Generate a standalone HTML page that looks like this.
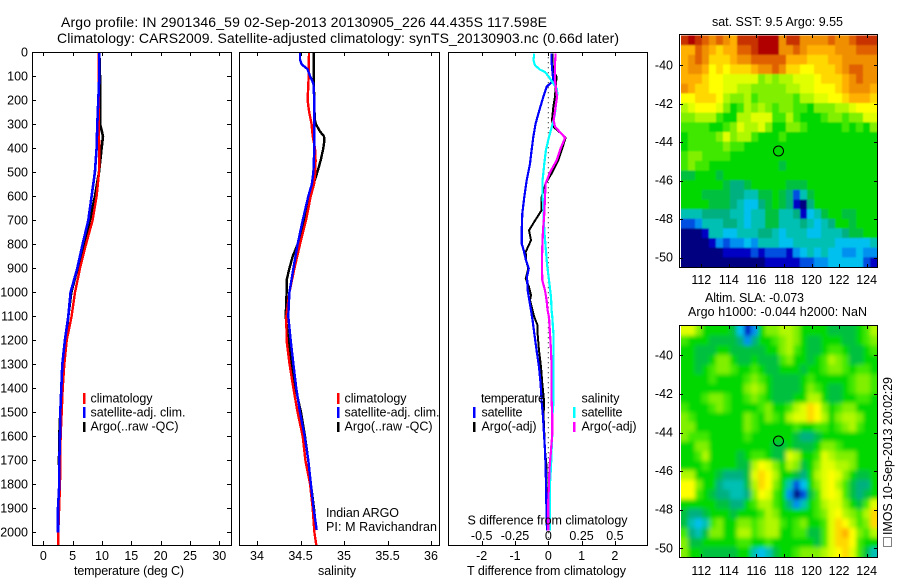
<!DOCTYPE html>
<html>
<head>
<meta charset="utf-8">
<title>Argo profile</title>
<style>
html,body{margin:0;padding:0;background:#fff;}
svg{display:block;font-family:"Liberation Sans",sans-serif;font-size:12.5px;fill:#000;}
.frame{fill:none;stroke:#000;stroke-width:1;shape-rendering:crispEdges;}
.sw{stroke:none;shape-rendering:crispEdges;}
</style>
</head>
<body>
<svg id="chart" xmlns="http://www.w3.org/2000/svg" width="900" height="580" viewBox="0 0 900 580">
<defs>
<clipPath id="clip-sst"><rect x="681" y="35.5" width="196" height="232"/></clipPath>
<clipPath id="clip-sla"><rect x="681" y="326" width="196" height="231.5"/></clipPath>
<filter id="soft-sst" filterUnits="userSpaceOnUse" x="640" y="0" width="260" height="300"><feGaussianBlur stdDeviation="0.8"/></filter>
<filter id="soft-sla" filterUnits="userSpaceOnUse" x="640" y="290" width="260" height="290"><feGaussianBlur stdDeviation="2"/></filter>
</defs>
<rect x="0" y="0" width="900" height="580" fill="#fff"/>
<text x="61" y="27" font-size="14" textLength="486">Argo profile: IN 2901346_59 02-Sep-2013 20130905_226 44.435S 117.598E</text>
<text x="57" y="43" font-size="14" textLength="562">Climatology: CARS2009. Satellite-adjusted climatology: synTS_20130903.nc (0.66d later)</text>

<g clip-path="url(#clip-sst)"><g id="map1-cells" filter="url(#soft-sst)"></g></g>
<g clip-path="url(#clip-sla)"><g id="map2-cells" filter="url(#soft-sla)"></g></g>
<g id="series"></g>
<g id="ticks"></g>

<rect class="frame" x="32.5" y="52.5" width="199" height="493"/>
<rect class="frame" x="239.5" y="52.5" width="200" height="493"/>
<rect class="frame" x="448.5" y="52.5" width="199" height="493"/>
<rect class="frame" x="679.5" y="34.5" width="198" height="233"/>
<rect class="frame" x="679.5" y="325.5" width="198" height="232"/>

<text x="74" y="575" textLength="110">temperature (deg C)</text>
<text x="318" y="575" textLength="38">salinity</text>
<text x="467" y="575" textLength="159">T difference from climatology</text>
<text x="467.5" y="524.5" textLength="160">S difference from climatology</text>

<rect class="sw" x="83" y="393" width="2.5" height="11" fill="#f00"/>
<rect class="sw" x="83" y="407" width="2.5" height="11" fill="#00f"/>
<rect class="sw" x="83" y="422" width="2.5" height="10" fill="#000"/>
<text x="90.5" y="402.5" textLength="62">climatology</text>
<text x="90.5" y="416.5" textLength="95">satellite-adj. clim.</text>
<text x="90.5" y="430.5" textLength="88">Argo(..raw -QC)</text>

<rect class="sw" x="337" y="393" width="2.5" height="11" fill="#f00"/>
<rect class="sw" x="337" y="407" width="2.5" height="11" fill="#00f"/>
<rect class="sw" x="337" y="422" width="2.5" height="10" fill="#000"/>
<text x="344.5" y="402.5" textLength="62">climatology</text>
<text x="344.5" y="416.5" textLength="95">satellite-adj. clim.</text>
<text x="344.5" y="430.5" textLength="88">Argo(..raw -QC)</text>

<text x="326" y="517" textLength="73">Indian ARGO</text>
<text x="326" y="531" textLength="111">PI: M Ravichandran</text>

<text x="481" y="402.5" textLength="64">temperature</text>
<rect class="sw" x="473" y="407" width="2.5" height="11" fill="#00f"/>
<rect class="sw" x="473" y="422" width="2.5" height="10" fill="#000"/>
<text x="481.5" y="416.5" textLength="41">satellite</text>
<text x="481.5" y="430.5" textLength="55">Argo(-adj)</text>
<text x="581.5" y="402.5" textLength="38">salinity</text>
<rect class="sw" x="573" y="407" width="2.5" height="11" fill="#0ff"/>
<rect class="sw" x="573" y="422" width="2.5" height="10" fill="#f0f"/>
<text x="581.5" y="416.5" textLength="41">satellite</text>
<text x="581.5" y="430.5" textLength="55">Argo(-adj)</text>

<text x="712" y="26" textLength="131">sat. SST: 9.5 Argo: 9.55</text>
<text x="705" y="302" textLength="99">Altim. SLA: -0.073</text>
<text x="688" y="316" textLength="179">Argo h1000: -0.044 h2000: NaN</text>

<circle cx="778.5" cy="151" r="5" fill="none" stroke="#000" stroke-width="1"/>
<circle cx="778.5" cy="441" r="5" fill="none" stroke="#000" stroke-width="1"/>

<rect x="883.5" y="537.5" width="8" height="9" fill="none" stroke="#000" stroke-width="1" stroke-dasharray="1 1"/>
<text transform="translate(892,535) rotate(-90)" textLength="158">IMOS 10-Sep-2013 20:02:29</text>
</svg>

<script>
// ---- axis tick labels ----
const depthTicks = [0,100,200,300,400,500,600,700,800,900,1000,1100,1200,1300,1400,1500,1600,1700,1800,1900,2000];
const tempTicks = [0,5,10,15,20,25,30];
const salTicks = [34,34.5,35,35.5,36];
const dTTicks = [-2,-1,0,1,2];
const dSTicks = [-0.5,-0.25,0,0.25,0.5];
const lonTicks = [112,114,116,118,120,122,124];
const latTicks = [-40,-42,-44,-46,-48,-50];

// ---- temperature panel (deg C) ----
const tempClimDepth = [0,300,400,500,600,700,800,900,1000,1100,1200,1300,1400,1500,1600,1800,2000,2055];
const tempClimValue = [9.43,9.43,9.55,9.5,9.09,8.41,7.27,6.25,5.40,4.83,3.98,3.58,3.30,3.13,2.95,2.84,2.56,2.56];
const tempSatDepth = [0,100,200,300,400,500,600,700,800,900,1000,1100,1200,1300,1400,1500,1600,1700,1800,1900,2000];
const tempSatValue = [9.55,9.55,9.38,9.2,9.09,8.8,8.24,7.67,6.7,5.8,4.66,4.26,3.69,3.24,3.07,2.9,2.84,2.73,2.73,2.5,2.5];
const tempArgoDepth = [0,100,200,300,350,400,500,600,700,800,900,1000,1100,1200,1300,1400,1500,1600,1700,1800,1900,2000];
const tempArgoValue = [9.55,9.66,9.66,9.7,10.17,9.94,9.5,8.8,7.95,6.93,5.85,4.77,4.26,3.86,3.3,3.13,2.9,2.73,2.67,2.73,2.56,2.5];

// ---- salinity panel ----
const salClimDepth = [0,100,200,250,300,350,400,450,500,550,600,700,800,900,1000,1100,1200,1300,1400,1500,1600,1700,1800,1900,2000,2055];
const salClimValue = [34.598,34.594,34.582,34.60,34.628,34.64,34.667,34.674,34.67,34.655,34.617,34.563,34.494,34.43,34.372,34.337,34.34,34.375,34.418,34.467,34.525,34.556,34.61,34.64,34.66,34.682];
const salSatDepth = [0,30,50,70,100,130,200,300,400,500,550,600,700,800,900,1000,1100,1200,1300,1400,1500,1600,1700,1800,1900,1990];
const salSatValue = [34.494,34.494,34.513,34.58,34.61,34.648,34.659,34.659,34.659,34.648,34.63,34.59,34.525,34.467,34.418,34.372,34.36,34.387,34.418,34.452,34.494,34.548,34.59,34.62,34.651,34.686];
const salArgoDepth = [0,100,200,280,300,330,350,370,400,450,500,550,600,700,800,850,900,950,1000,1100,1200,1300,1400,1500,1600,1700,1800,1900,1990];
const salArgoValue = [34.651,34.651,34.659,34.663,34.678,34.724,34.77,34.774,34.762,34.732,34.693,34.648,34.61,34.54,34.467,34.41,34.372,34.34,34.34,34.33,34.36,34.40,34.444,34.506,34.552,34.59,34.62,34.655,34.678];

// ---- difference panel ----
const dTSatDepth = [5,40,75,117,144,186,242,297,353,408,464,533,603,672,742,797,825,867,901,936,992,1033,1075,1117,1172,1242,1311,1381,1450,1519,1589,1658,1728,1797,1867,1936,1992];
const dTSatValue = [0.10,0.10,0.12,0.15,-0.05,-0.15,-0.27,-0.38,-0.45,-0.50,-0.55,-0.65,-0.72,-0.78,-0.80,-0.80,-0.74,-0.67,-0.59,-0.64,-0.62,-0.57,-0.52,-0.47,-0.42,-0.35,-0.28,-0.23,-0.20,-0.16,-0.13,-0.10,-0.08,-0.07,-0.06,-0.05,-0.04];
const dTArgoDepth = [5,40,75,103,144,186,228,283,310,340,356,400,450,500,547,603,658,706,742,783,832,867,901,943,978,1012,1033,1103,1138,1172,1242,1311,1381,1450,1519,1589,1658,1728,1797,1867,1992];
const dTArgoValue = [0.12,0.12,0.15,0.25,0.22,0.20,0.15,0.11,0.15,0.40,0.52,0.42,0.30,0.12,-0.08,-0.20,-0.20,-0.42,-0.58,-0.52,-0.68,-0.67,-0.60,-0.68,-0.58,-0.52,-0.55,-0.42,-0.32,-0.32,-0.28,-0.22,-0.18,-0.13,-0.14,-0.12,-0.10,-0.05,-0.05,-0.04,-0.04];
const dSSatDepth = [6,33,54,72,82,103,131,151,172,214,256,297,353,408,464,533,603,672,742,811,881,950,1019,1075,1103,1172,1242,1311,1381,1450,1519,1589,1658,1728,1797,1867,1936,1992];
const dSSatValue = [-0.106,-0.111,-0.10,-0.063,-0.025,0.005,0.038,0.063,0.068,0.058,0.05,0.033,0.005,-0.018,-0.03,-0.043,-0.043,-0.035,-0.03,-0.02,-0.01,0.005,0.02,0.025,0.03,0.038,0.04,0.04,0.04,0.04,0.03,0.03,0.025,0.02,0.013,0.013,0.013,0.013];
const dSArgoDepth = [6,47,117,186,228,283,310,340,356,400,450,500,547,603,672,742,811,881,950,992,1033,1075,1103,1172,1242,1311,1450,1519,1589,1658,1728,1797,1867,1992];
const dSArgoValue = [0.055,0.05,0.05,0.065,0.055,0.04,0.05,0.10,0.126,0.093,0.063,0.013,-0.02,-0.025,-0.03,-0.04,-0.045,-0.048,-0.045,-0.025,-0.013,-0.005,0.005,0.013,0.02,0.025,0.025,0.03,0.03,0.02,0.01,0.005,0,0];

// ---- map cell values (colour-scale level 0..19), north to south ----
const sstGrid = [
[18,19,18,17,16,17,16,15,18,18,18,19,19,19,16,18,18,16,16,16,16,17,16,16,17,18,18,18],
[15,15,17,16,15,14,15,15,17,17,18,19,19,19,16,16,17,16,15,15,15,15,16,16,16,17,17,17],
[15,16,17,16,14,14,14,15,16,16,17,17,17,17,17,15,15,15,14,14,14,15,15,16,16,16,16,16],
[15,16,16,15,13,14,13,14,14,14,15,16,16,17,16,14,14,13,13,14,14,14,15,16,17,17,16,16],
[15,15,15,14,13,13,12,12,12,12,12,10,11,10,11,11,12,12,12,13,14,14,14,15,16,17,16,16],
[16,15,14,14,13,13,12,12,11,11,10,10,10,10,10,11,11,12,12,13,13,13,14,15,16,16,16,15],
[13,13,14,14,14,13,11,10,10,11,9,10,10,10,10,10,9,11,11,12,12,13,13,14,15,15,15,14],
[11,12,13,13,13,12,10,8,9,11,10,11,10,9,10,10,9,9,8,10,10,10,11,11,12,13,13,13],
[10,10,11,11,11,9,8,8,11,11,12,12,12,9,9,11,9,8,8,8,9,10,10,9,10,10,12,12],
[9,9,9,9,8,8,9,10,12,11,11,12,10,8,8,10,10,9,8,8,8,8,8,9,8,9,8,10],
[8,9,9,9,9,10,12,10,11,11,9,8,8,8,9,8,8,8,8,8,8,8,8,8,8,8,8,8],
[8,9,9,9,9,9,10,9,9,8,8,8,8,8,8,8,8,8,8,8,8,8,8,8,8,8,8,8],
[9,10,10,9,9,9,9,8,8,8,8,8,8,8,8,8,8,8,8,8,8,8,8,8,8,8,8,8],
[9,10,9,9,8,8,8,8,8,8,8,8,8,8,7,8,8,8,8,8,8,8,8,8,8,8,8,8],
[7,7,8,8,8,7,8,8,8,8,8,8,8,8,8,8,8,8,8,8,8,8,8,8,8,8,8,8],
[8,8,8,8,8,8,7,6,6,7,8,8,8,8,8,7,7,7,8,8,8,8,8,8,8,8,8,8],
[8,8,8,7,7,7,7,6,6,5,5,7,7,8,7,6,2,5,7,8,8,8,8,8,8,8,8,8],
[8,8,8,8,7,7,7,6,5,4,4,6,7,8,7,6,1,0,6,8,8,8,8,8,8,8,8,8],
[5,5,5,6,6,6,6,5,5,4,5,5,7,7,5,5,6,1,4,5,7,8,8,7,7,8,8,8],
[2,2,3,5,5,5,6,6,5,4,5,5,7,7,5,5,5,6,5,4,5,6,8,8,7,8,8,8],
[0,0,0,1,5,5,4,4,5,5,5,6,6,5,4,5,5,5,4,4,5,5,5,6,7,7,8,8],
[0,0,0,0,1,3,2,3,3,4,3,5,5,5,4,4,5,5,5,5,5,5,4,4,4,4,4,5],
[0,0,0,0,0,0,1,1,1,1,2,1,2,2,2,1,3,4,5,4,5,4,4,3,3,4,3,3],
[0,0,0,0,0,0,0,0,0,0,0,0,1,1,1,1,1,2,2,3,3,4,4,4,4,4,2,1]
];
const slaGrid = [
[12,12,10,8,8,8,8,7,4,1,3,8,10,10,11,11,10,8,8,8,8,7,7,7,7,8,9,11],
[9,8,8,8,7,7,7,7,6,3,6,8,8,9,10,11,10,8,7,7,8,8,8,7,7,8,9,10],
[8,8,7,7,7,8,8,7,7,7,7,7,8,8,10,11,9,8,7,7,8,9,9,8,7,7,8,9],
[8,8,7,7,8,10,10,8,7,7,8,7,7,7,9,10,8,8,7,8,9,11,10,9,7,7,8,8],
[8,8,7,8,9,10,10,9,8,8,9,8,7,7,8,8,8,7,8,8,9,10,10,9,8,9,9,8],
[8,8,8,8,9,8,8,8,8,9,10,9,8,7,7,7,7,8,9,8,8,8,8,8,9,10,10,9],
[8,8,8,8,8,8,8,8,8,10,11,10,8,7,7,7,7,8,10,9,8,7,7,8,9,10,10,9],
[8,8,8,9,10,10,9,8,8,9,10,9,8,7,7,7,8,8,11,11,8,7,7,8,8,9,9,8],
[9,8,8,8,9,10,9,8,8,8,8,9,10,8,8,9,11,12,14,13,10,8,9,10,10,8,8,8],
[10,9,8,8,8,8,8,8,8,10,9,8,10,9,8,11,12,12,14,13,11,8,10,11,11,10,8,8],
[10,10,8,8,8,8,8,8,8,10,9,8,8,8,8,8,9,8,8,9,9,8,9,10,11,9,8,8],
[10,9,9,9,8,8,8,8,8,9,8,8,8,8,8,8,7,6,6,7,8,8,8,8,8,8,8,8],
[8,8,10,10,8,8,8,8,8,8,8,8,8,7,7,8,7,7,7,8,10,10,9,8,8,8,8,8],
[8,8,9,11,8,8,8,8,7,8,9,9,8,7,7,12,11,8,8,9,12,11,10,10,10,8,8,8],
[8,8,8,9,8,8,8,8,7,7,11,13,12,10,8,11,10,7,8,10,12,12,11,11,10,8,8,8],
[11,11,8,8,8,7,6,6,6,7,12,14,13,11,8,8,7,6,8,11,12,13,12,10,8,7,7,8],
[13,13,10,8,8,6,5,5,5,7,11,14,13,10,8,5,2,4,8,10,12,13,11,9,7,6,6,8],
[13,13,9,8,7,6,6,5,5,6,10,13,12,9,8,3,0,2,7,9,12,13,12,9,7,6,7,8],
[8,8,8,8,8,7,7,6,6,8,9,11,11,9,8,6,3,5,8,9,11,12,12,10,8,7,9,12],
[7,6,6,7,8,8,8,7,8,8,8,9,11,10,8,8,8,8,8,9,10,12,13,11,10,9,11,14],
[7,5,4,5,9,10,8,8,10,10,9,10,11,11,9,8,9,10,8,8,9,12,14,13,11,9,10,14],
[9,6,5,7,10,10,8,8,11,11,9,10,11,11,8,8,9,9,7,7,9,12,14,15,13,10,9,11],
[10,7,7,8,8,8,8,8,9,9,8,8,9,8,8,8,8,8,8,7,9,12,14,14,13,9,8,8],
[10,8,8,7,7,7,7,7,8,8,5,4,5,7,8,8,9,10,10,10,11,12,13,14,12,9,7,5]
];

const SVGNS = 'http://www.w3.org/2000/svg';
const palette = ['#000080','#0000c4','#0050e0','#0090f0','#00c0f0','#00c0b4','#00b080','#00c040','#00d800','#40e800','#80f000','#b0f800','#e0ff00','#ffff00','#ffd800','#ffb000','#f09000','#e06000','#c83000','#b00000'];

// axis functions
function yDepth(d){ return 52.3 + d * 0.24; }
function xTemp(t){ return 43.3 + t * 5.867; }
function xSal(s){ return 257 + (s - 34) * 87; }
function xDT(t){ return 548.3 + t * 33.3; }
function xDS(s){ return 548.3 + s * 133.2; }
function xLon(lon){ return 701.3 + (lon - 112) * 13.78; }
function yLat1(lat){ return 65.3 - (lat + 40) * 19.23; }
function yLat2(lat){ return 355.3 - (lat + 40) * 19.3; }

const seriesG = document.getElementById('series');
const ticksG = document.getElementById('ticks');

function drawLine(name, depths, values, xFn, color, width){
  const p = document.createElementNS(SVGNS, 'polyline');
  
  
  p.setAttribute('points', depths.map(function(d, i){ return xFn(values[i]).toFixed(1) + ',' + yDepth(d).toFixed(1); }).join(' '));
  p.setAttribute('fill', 'none');
  p.setAttribute('stroke', color);
  p.setAttribute('stroke-width', width);
  p.setAttribute('shape-rendering', 'crispEdges');
  seriesG.appendChild(p);
}
function tickMark(x1, y1, x2, y2){
  const l = document.createElementNS(SVGNS, 'line');
  
  
  l.setAttribute('x1', x1);
  l.setAttribute('y1', y1);
  l.setAttribute('x2', x2);
  l.setAttribute('y2', y2);
  l.setAttribute('stroke', '#000');
  l.setAttribute('shape-rendering', 'crispEdges');
  ticksG.appendChild(l);
}
function tickLabel(value, x, y, anchor){
  const t = document.createElementNS(SVGNS, 'text');
  
  
  t.setAttribute('x', x);
  t.setAttribute('y', y);
  t.setAttribute('text-anchor', anchor);
  t.textContent = value;
  ticksG.appendChild(t);
}
function drawGrid(gid, grid, left, top, right, bottom){
  const g = document.getElementById(gid);
  const rows = grid.length;
  const bleed = 12;
  grid.forEach(function(row, r){
    const cols = row.length;
    row.forEach(function(v, c){
      const bw = (right - left) / cols;
      const bh = (bottom - top) / rows;
      // border cells extend past the clip so the smoothing does not fade at the edge
      const x0 = left + c * bw - (c === 0 ? bleed : 0);
      const y0 = top + r * bh - (r === 0 ? bleed : 0);
      const x1 = left + (c + 1) * bw + (c === cols - 1 ? bleed : 0.5);
      const y1 = top + (r + 1) * bh + (r === rows - 1 ? bleed : 0.5);
      const cell = document.createElementNS(SVGNS, 'rect');
      
      
      cell.setAttribute('x', x0.toFixed(2));
      cell.setAttribute('y', y0.toFixed(2));
      cell.setAttribute('width', (x1 - x0).toFixed(2));
      cell.setAttribute('height', (y1 - y0).toFixed(2));
      cell.setAttribute('fill', palette[Math.max(0, Math.min(palette.length - 1, Math.round(v)))]);
      g.appendChild(cell);
    });
  });
}

drawGrid('map1-cells', sstGrid, 681, 35.5, 877, 267);
drawGrid('map2-cells', slaGrid, 681, 326, 877, 557);

// depth ticks and labels
depthTicks.forEach(function(d){
  const y = Math.round(yDepth(d)) + 0.5;
  tickMark(32, y, 36, y);
  tickMark(227, y, 231, y);
  tickLabel(d, 28, yDepth(d) + 4, 'end');
});
// temperature axis
tempTicks.forEach(function(t){
  const x = Math.round(xTemp(t)) + 0.5;
  tickMark(x, 52, x, 56);
  tickMark(x, 541, x, 545);
  tickLabel(t, xTemp(t), 560, 'middle');
});
// salinity axis
salTicks.forEach(function(s){
  const x = Math.round(xSal(s)) + 0.5;
  tickMark(x, 52, x, 56);
  tickMark(x, 541, x, 545);
  tickLabel(s, xSal(s), 560, 'middle');
});
// difference axes
dTTicks.forEach(function(t){
  const x = Math.round(xDT(t)) + 0.5;
  tickMark(x, 52, x, 56);
  tickMark(x, 541, x, 545);
  tickLabel(t, xDT(t), 560, 'middle');
});
dSTicks.forEach(function(s){
  tickLabel(s, xDS(s), 540, 'middle');
});
// map axes
lonTicks.forEach(function(lon){
  const x = Math.round(xLon(lon)) + 0.5;
  tickMark(x, 34, x, 38);
  tickMark(x, 264, x, 268);
  tickMark(x, 325, x, 329);
  tickMark(x, 554, x, 558);
  tickLabel(lon, xLon(lon), 284, 'middle');
  tickLabel(lon, xLon(lon), 575, 'middle');
});
latTicks.forEach(function(lat){
  const y1 = Math.round(yLat1(lat)) + 0.5;
  const y2 = Math.round(yLat2(lat)) + 0.5;
  tickMark(679, y1, 683, y1);
  tickMark(874, y1, 878, y1);
  tickMark(679, y2, 683, y2);
  tickMark(874, y2, 878, y2);
  tickLabel(lat, 673, yLat1(lat) + 4, 'end');
  tickLabel(lat, 673, yLat2(lat) + 4, 'end');
});

// zero reference line in difference panel
const zero = document.createElementNS(SVGNS, 'line');


zero.setAttribute('x1', xDT(0));
zero.setAttribute('x2', xDT(0));
zero.setAttribute('y1', yDepth(0));
zero.setAttribute('y2', 545);
zero.setAttribute('stroke', '#000');
zero.setAttribute('stroke-dasharray', '1 4');
seriesG.appendChild(zero);

// series
drawLine('temperature-argo-line', tempArgoDepth, tempArgoValue, xTemp, '#000', 2.6);
drawLine('temperature-climatology-line', tempClimDepth, tempClimValue, xTemp, '#f00', 2.4);
drawLine('temperature-satellite-line', tempSatDepth, tempSatValue, xTemp, '#00f', 2.6);
drawLine('salinity-argo-line', salArgoDepth, salArgoValue, xSal, '#000', 2.4);
drawLine('salinity-climatology-line', salClimDepth, salClimValue, xSal, '#f00', 2.4);
drawLine('salinity-satellite-line', salSatDepth, salSatValue, xSal, '#00f', 2.4);
drawLine('t-difference-argo-line', dTArgoDepth, dTArgoValue, xDT, '#000', 2);
drawLine('t-difference-satellite-line', dTSatDepth, dTSatValue, xDT, '#00f', 2.2);
drawLine('s-difference-satellite-line', dSSatDepth, dSSatValue, xDS, '#0ff', 2.2);
drawLine('s-difference-argo-line', dSArgoDepth, dSArgoValue, xDS, '#f0f', 2.2);
</script>
</body>
</html>
